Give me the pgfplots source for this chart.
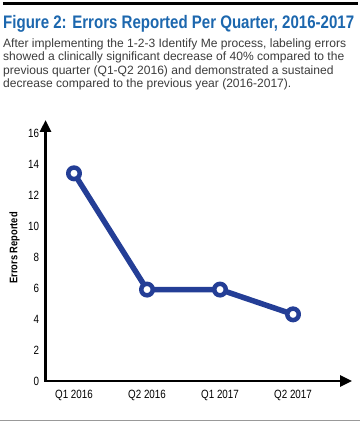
\documentclass[border=0pt]{standalone}
\usepackage{pgfplots}
\pgfplotsset{compat=1.18}
\usetikzlibrary{arrows.meta}
\usepackage{fontspec}
\setmainfont{Liberation Sans}
\newfontfamily\condfont{Liberation Sans}[FakeStretch=0.82]
\newfontfamily\titlefont{Liberation Sans Bold}[FakeStretch=0.83]
\newfontfamily\labfont{Liberation Sans Bold}[FakeStretch=0.85]
\definecolor{titleblue}{HTML}{1C67AE}
\definecolor{lineblue}{HTML}{243E96}
\definecolor{subgray}{HTML}{3C3C3C}
\begin{document}
\begin{tikzpicture}
\useasboundingbox (-74bp,-44bp) rectangle (289bp,381bp);
\draw[line width=3bp] (-71bp,377.7bp) -- (284bp,377.7bp);
\draw[gray!80, line width=1bp] (-74bp,-39.7bp) -- (286bp,-39.7bp);
\node[anchor=base west, inner sep=0, text=titleblue, font=\titlefont\fontsize{18.2}{20}\selectfont] at (-71bp,352bp) {Figure 2: Errors Reported Per Quarter, 2016-2017};
\begin{scope}[every node/.style={anchor=base west, inner sep=0, text=subgray, font=\fontsize{12.1}{13}\selectfont}]
\node at (-71bp,333.7bp) {After implementing the 1-2-3 Identify Me process, labeling errors};
\node at (-71bp,320.2bp) {showed a clinically significant decrease of 40\% compared to the};
\node at (-71bp,306.7bp) {previous quarter (Q1-Q2 2016) and demonstrated a sustained};
\node at (-71bp,293.4bp) {decrease compared to the previous year (2016-2017).};
\end{scope}
\node[rotate=90, inner sep=0, font=\labfont\fontsize{11}{11}\selectfont] at (-59.5bp,133bp) {Errors Reported};
\begin{axis}[
  anchor=origin,
  scale only axis, width=306.5bp, height=261bp,
  xmin=-0.39, xmax=3.808, ymin=0, ymax=16.84,
  axis lines=left,
  axis line style={line width=2.8bp, line cap=rect, -{Triangle[length=12bp,width=11bp]}},
  xtick={0,1,2,3},
  xticklabels={Q1 2016, Q2 2016, Q1 2017, Q2 2017},
  ytick={0,2,...,16},
  major tick length=0pt,
  tick style={draw=none},
  /pgf/number format/assume math mode=true,
  ticklabel style={font=\condfont\fontsize{12}{12}\selectfont},
  xticklabel style={yshift=-6bp},
  yticklabel style={xshift=-3bp},
  clip=false,
]
\addplot[color=lineblue, line width=5.5bp, line join=round, mark=*, mark size=5.75bp,
  mark options={fill=white, draw=lineblue, line width=4.5bp}]
  coordinates {(0,13.4) (1,5.9) (2,5.9) (3,4.3)};
\end{axis}
\end{tikzpicture}
\end{document}
